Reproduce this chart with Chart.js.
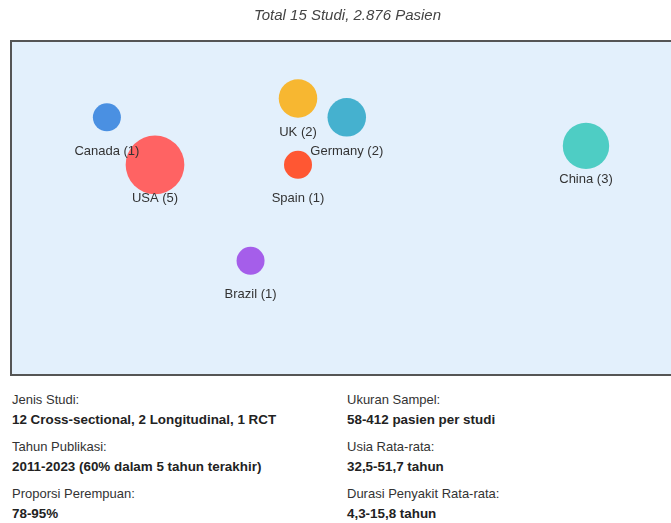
<!DOCTYPE html>
<html>
<head>
<meta charset="utf-8">
<script src="https://cdn.jsdelivr.net/npm/chart.js@4"></script>
<style>
    html, body { margin: 0; padding: 0; background: #fff; overflow: hidden; }
    body { width: 671px; height: 523px; position: relative; font-family: "Liberation Sans", Arial, sans-serif; }
    #wrap { position: absolute; left: 0; top: 0; width: 671px; height: 380px; }
    .info { position: absolute; top: 390px; left: 0; width: 671px; display: grid; grid-template-columns: 335px 324px; padding-left: 12px; row-gap: 7px; }
    .info div { line-height: 20px; font-size: 13px; color: #333; }
    .info b { display: block; font-size: 13.4px; color: #222; }
</style>
</head>
<body>
<div id="wrap"><canvas id="mapChart" width="671" height="380"></canvas></div>
<div class="info" id="info"></div>
<script>
// data
const countries = ['Canada', 'USA', 'UK', 'Germany', 'Spain', 'China', 'Brazil'];
const studies = [1, 5, 2, 2, 1, 3, 1];
const xPos = [14.4, 21.7, 43.4, 50.8, 43.4, 87.1, 36.2];
const yPos = [77.3, 63.0, 83.0, 77.3, 63.0, 68.7, 34.1];
const colors = ['#4A90E2', '#FF6363', '#F7B731', '#45B1CF', '#FF5733', '#4ECDC4', '#A55EEA'];

const titleText = 'Total 15 Studi, 2.876 Pasien';
const infoLabels = ['Jenis Studi:', 'Ukuran Sampel:', 'Tahun Publikasi:', 'Usia Rata-rata:', 'Proporsi Perempuan:', 'Durasi Penyakit Rata-rata:'];
const infoValues = ['12 Cross-sectional, 2 Longitudinal, 1 RCT', '58-412 pasien per studi', '2011-2023 (60% dalam 5 tahun terakhir)', '32,5-51,7 tahun', '78-95%', '4,3-15,8 tahun'];

// info block
const info = document.getElementById('info');
infoLabels.forEach((l, i) => {
    const d = document.createElement('div');
    d.textContent = l;
    const b = document.createElement('b');
    b.textContent = infoValues[i];
    d.appendChild(b);
    info.appendChild(d);
});

// panel background + border
const panelPlugin = {
    id: 'panel',
    beforeDraw(chart) {
        const { ctx, chartArea: a } = chart;
        ctx.save();
        ctx.fillStyle = '#E3F0FC';
        ctx.fillRect(a.left, a.top, a.right - a.left + 10, a.bottom - a.top);
        ctx.strokeStyle = '#555';
        ctx.lineWidth = 2;
        ctx.strokeRect(a.left - 1, a.top - 1, a.right - a.left + 12, a.bottom - a.top + 2);
        ctx.restore();
    }
};

// country labels under bubbles
const labelPlugin = {
    id: 'countryLabels',
    afterDatasetsDraw(chart) {
        const ctx = chart.ctx;
        const meta = chart.getDatasetMeta(0);
        ctx.save();
        ctx.font = '13px "Liberation Sans", Arial, sans-serif';
        ctx.fillStyle = '#333';
        ctx.textAlign = 'center';
        ctx.textBaseline = 'middle';
        meta.data.forEach((el, i) => {
            ctx.fillText(countries[i] + ' (' + studies[i] + ')', el.x, el.y + 34);
        });
        ctx.restore();
    }
};

new Chart(document.getElementById('mapChart'), {
    type: 'bubble',
    data: {
        labels: countries,
        datasets: [{
            data: countries.map((c, i) => ({ x: xPos[i], y: yPos[i], r: 14 * Math.pow(studies[i], 0.46) })),
            backgroundColor: colors,
            borderColor: colors,
            borderWidth: 0,
            hoverRadius: 0
        }]
    },
    options: {
        responsive: false,
        animation: false,
        layout: { autoPadding: false, padding: { left: 12, right: -12, top: 0, bottom: 6 } },
        scales: {
            x: { display: false, min: 0, max: 100 },
            y: { display: false, min: 0, max: 100 }
        },
        plugins: {
            legend: { display: false },
            tooltip: { enabled: false },
            title: {
                display: true,
                text: titleText,
                color: '#444',
                font: { family: '"Liberation Sans", Arial, sans-serif', size: 15, style: 'italic', weight: 'normal' },
                padding: { top: 7, bottom: 17 }
            }
        }
    },
    plugins: [panelPlugin, labelPlugin]
});
</script>
</body>
</html>
